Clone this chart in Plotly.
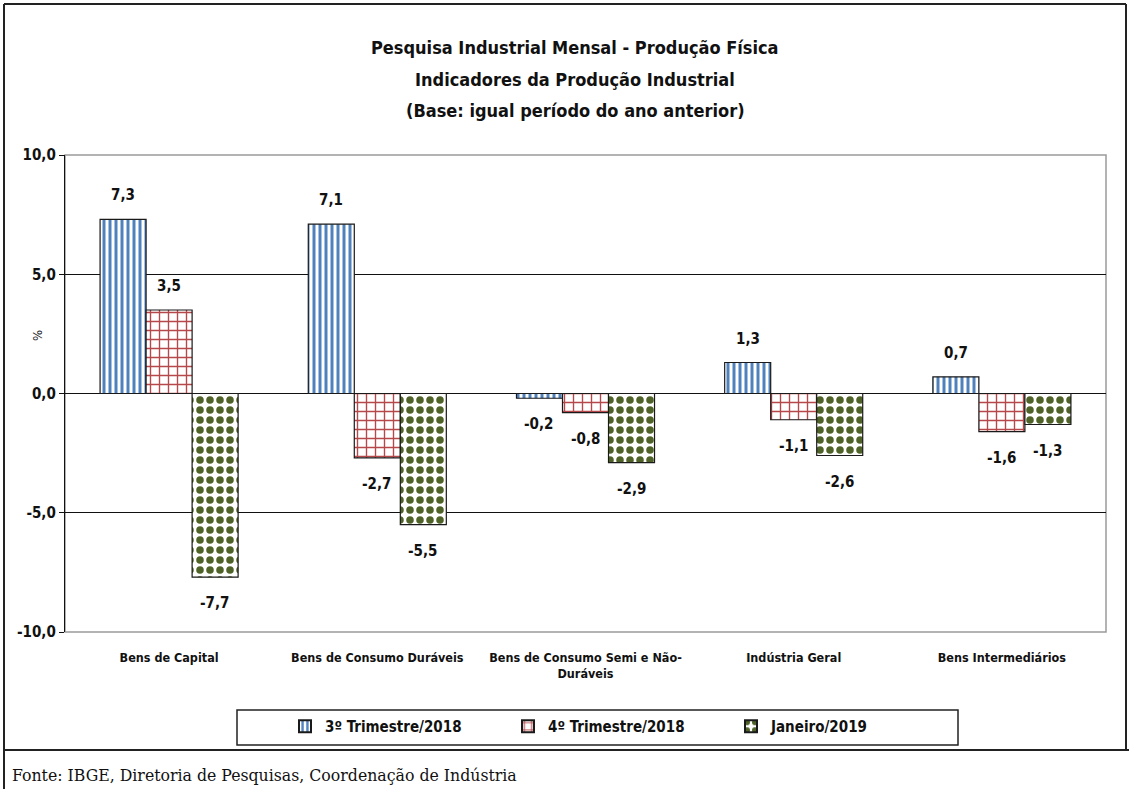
import plotly.graph_objects as go

categories = ["Bens de Capital", "Bens de Consumo Duráveis",
              "Bens de Consumo Semi e Não-<br>Duráveis", "Indústria Geral",
              "Bens Intermediários"]
series_names = ["3º Trimestre/2018", "4º Trimestre/2018", "Janeiro/2019"]
tri3_2018 = [7.3, 7.1, -0.2, 1.3, 0.7]
tri4_2018 = [3.5, -2.7, -0.8, -1.1, -1.6]
jan_2019 = [-7.7, -5.5, -2.9, -2.6, -1.3]
tick_vals = [-10, -5, 0, 5, 10]
tick_text = ["-10,0", "-5,0", "0,0", "5,0", "10,0"]

W, H = 1129, 789
L, R, T, B = 65, 23, 155, 157
PW, PH = W - L - R, H - T - B
BARGAP = 0.337

FONT = "DejaVu Sans Condensed, Liberation Sans Narrow, sans-serif"

styles = [
    dict(fg="#4F81BD", shape="|", size=6, solidity=0.5),
    dict(fg="#B6474A", shape="+", size=9, solidity=0.28),
    dict(fg="#4F6228", shape=".", size=10, solidity=0.45),
]
all_series = [tri3_2018, tri4_2018, jan_2019]

fig = go.Figure()
for name, vals, st in zip(series_names, all_series, styles):
    fig.add_trace(go.Bar(
        x=categories, y=vals, name=name,
        marker=dict(color="white",
                    line=dict(color="#1a1a1a", width=1.2),
                    pattern=dict(shape=st["shape"], fgcolor=st["fg"], bgcolor="white",
                                 size=st["size"], solidity=st["solidity"],
                                 fillmode="replace")),
    ))

bar_px = PW / len(categories) * (1 - BARGAP) / 3
annotations = []
for i, vals in enumerate(all_series):
    for c, v in zip(categories, vals):
        annotations.append(dict(
            x=c, y=v, xref="x", yref="y", showarrow=False,
            text=f"<b>{v:.1f}</b>".replace(".", ","),
            xshift=(i - 1) * bar_px, yshift=24 if v >= 0 else -26,
            font=dict(family=FONT, size=15, color="#111"),
        ))


def px_x(p):
    return (p - L) / PW


def px_y(p):
    return (H - B - p) / PH


title_lines = ["<b>Pesquisa Industrial Mensal - Produção Física</b>",
               "<b>Indicadores da Produção Industrial</b>",
               "<b>(Base: igual período do ano anterior)</b>"]
title_y = [48, 79, 110]
for t, yy in zip(title_lines, title_y):
    annotations.append(dict(
        x=px_x(575), y=px_y(yy), xref="paper", yref="paper",
        showarrow=False, text=t, xanchor="center", yanchor="middle",
        font=dict(family=FONT, size=18, color="#111")))

annotations.append(dict(
    x=px_x(10), y=px_y(775), xref="paper", yref="paper",
    showarrow=False, text="Fonte: IBGE, Diretoria de Pesquisas, Coordenação de Indústria",
    xanchor="left", yanchor="middle",
    font=dict(family="DejaVu Serif Condensed, DejaVu Serif, serif", size=17.5, color="#111")))

annotations.append(dict(
    x=px_x(37), y=px_y(336), xref="paper", yref="paper", showarrow=False,
    text="%", textangle=-90, xanchor="center", yanchor="middle",
    font=dict(family=FONT, size=13, color="#111")))

shapes = [
    dict(type="line", xref="paper", yref="paper", x0=px_x(4), x1=px_x(1126), y0=px_y(4), y1=px_y(4),
         line=dict(color="#222", width=2)),
    dict(type="line", xref="paper", yref="paper", x0=px_x(4), x1=px_x(4), y0=px_y(4), y1=px_y(789),
         line=dict(color="#222", width=2)),
    dict(type="line", xref="paper", yref="paper", x0=px_x(1126), x1=px_x(1126), y0=px_y(4), y1=px_y(750),
         line=dict(color="#222", width=2)),
    dict(type="line", xref="paper", yref="paper", x0=px_x(4), x1=px_x(1129), y0=px_y(750), y1=px_y(750),
         line=dict(color="#222", width=2)),
    dict(type="rect", xref="paper", yref="paper", x0=0, x1=1, y0=0, y1=1,
         line=dict(color="#9a9a9a", width=1.5), layer="below"),
    # legend box
    dict(type="rect", xref="paper", yref="paper", x0=px_x(237), x1=px_x(958),
         y0=px_y(710), y1=px_y(745), line=dict(color="#222", width=1.5)),
]

fig.update_layout(
    width=W, height=H,
    margin=dict(l=L, r=R, t=T, b=B, autoexpand=False),
    paper_bgcolor="white", plot_bgcolor="white",
    barmode="group", bargap=BARGAP, bargroupgap=0,
    showlegend=True,
    legend=dict(orientation="h", x=px_x(285), xanchor="left", y=px_y(710), yanchor="top",
                borderwidth=0, bgcolor="rgba(0,0,0,0)",
                entrywidth=178, entrywidthmode="pixels",
                font=dict(family=FONT, size=15, color="#111", weight="bold"),
                itemsizing="constant"),
    xaxis=dict(showgrid=False, showline=False, ticks="", zeroline=False, automargin=False,
               tickfont=dict(family=FONT, size=12.5, color="#111", weight="bold"),
               ticklabelstandoff=16),
    yaxis=dict(range=[-10, 10], tickvals=tick_vals, ticktext=tick_text, automargin=False,
               showgrid=True, gridcolor="#111", gridwidth=1.2,
               zeroline=True, zerolinecolor="#111", zerolinewidth=1.2,
               showline=True, linecolor="#111", linewidth=1.2,
               ticks="outside", ticklen=5, tickcolor="#111",
               tickfont=dict(family=FONT, size=15, color="#111", weight="bold")),
    annotations=annotations,
    shapes=shapes,
)

fig.write_html(
    "out.html",
    config={"displayModeBar": False},
    post_script="document.body.style.margin='0';document.body.style.overflow='hidden';",
)
